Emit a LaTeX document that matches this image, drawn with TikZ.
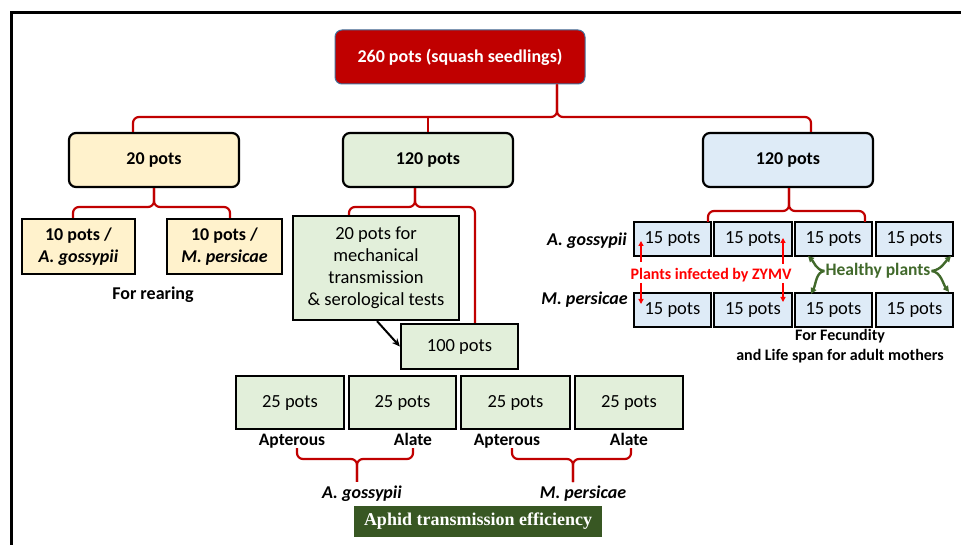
\documentclass[tikz,border=0pt]{standalone}
\usepackage{fontspec}
\setmainfont{Carlito}
\newfontfamily\timesfont{Liberation Serif}
\usetikzlibrary{arrows.meta}
\definecolor{topred}{HTML}{C00000}
\definecolor{brightred}{HTML}{FF0000}
\definecolor{yel}{HTML}{FFF2CC}
\definecolor{grn}{HTML}{E2EFDA}
\definecolor{blu}{HTML}{DEEBF7}
\definecolor{dkgrn}{HTML}{385723}
\definecolor{hgrn}{HTML}{41692B}
\definecolor{topborder}{HTML}{41719C}
\begin{document}
\begin{tikzpicture}[x=1pt,y=-1pt,
  font=\bfseries\fontsize{18}{22}\selectfont,
  rbox/.style={draw, line width=2.2pt, rounded corners=7pt, inner sep=0pt, align=center},
  sbox/.style={draw, line width=2.2pt, inner sep=0pt, align=center},
  regbox/.style={draw, line width=2.2pt, inner sep=0pt, align=center, font=\mdseries\fontsize{18.5}{22}\selectfont},
  conn/.style={draw=topred, line width=2.2pt, rounded corners=6pt},
  lbl/.style={inner sep=0pt, align=center},
  smalllbl/.style={inner sep=0pt, align=center, font=\bfseries\fontsize{16}{20}\selectfont},
  sublbl/.style={inner sep=0pt, align=center, font=\bfseries\fontsize{17.5}{20}\selectfont},
  spec/.style={inner sep=0pt, align=center, font=\bfseries\itshape\fontsize{18}{20}\selectfont},
  redarr/.style={draw=brightred, line width=1.4pt, -{Triangle[length=5pt,width=5pt]}},
  grnarr/.style={draw=hgrn, line width=2.4pt, -{Triangle[length=6pt,width=6pt]}}
]
\useasboundingbox (0,0) rectangle (961,545);
% frame
\draw[line width=3pt] (961,13) -- (11,13) -- (11,545);

% top
\node[draw=topborder, line width=1pt, fill=topred, rounded corners=7pt, text=white,
  minimum width=250pt, minimum height=54pt, inner sep=0pt] (top) at (460,57) {260 pots (squash seedlings)};

% level 2
\node[rbox, fill=yel, minimum width=170pt, minimum height=54pt] (n20) at (154,160) {20 pots};
\node[rbox, fill=grn, minimum width=170pt, minimum height=54pt] (n120a) at (428,160) {120 pots};
\node[rbox, fill=blu, minimum width=170pt, minimum height=54pt] (n120b) at (788,160) {120 pots};

% top brace
\draw[conn] ([xshift=97pt]top.south) -- (557,117) -- (133,117) -- ([xshift=-21pt]n20.north);
\draw[conn] ([xshift=97pt]top.south) -- (557,117) -- (811,117) -- ([xshift=23pt]n120b.north);
\draw[conn] (n120a.north |- 0,117) -- (n120a.north);

% left branch
\node[sbox, fill=yel, minimum width=113pt, minimum height=55pt] (ag10) at (78.5,246.5) {10 pots /\\\itshape A. gossypii};
\node[sbox, fill=yel, minimum width=115pt, minimum height=55pt] (mp10) at (224.5,246.5) {10 pots /\\\itshape M. persicae};
\node[lbl] (rear) at (153,295) {For rearing};
\draw[conn] (n20.south) -- (154,207) -- (73,207) -- ([xshift=-5.5pt]ag10.north);
\draw[conn] (n20.south) -- (154,207) -- (230,207) -- ([xshift=5.5pt]mp10.north);

% middle branch
\node[regbox, fill=grn, minimum width=166pt, minimum height=104pt] (mech) at (376,268) {20 pots for\\mechanical\\transmission\\\& serological tests};
\node[regbox, fill=grn, minimum width=117pt, minimum height=45pt] (n100) at (459.5,346.5) {100 pots};
\draw[conn] ([xshift=-13pt]n120a.south) -- (415,207) -- (349,207) -- ([xshift=-27pt]mech.north);
\draw[conn] ([xshift=-13pt]n120a.south) -- (415,207) -- (475,207) -- ([xshift=15.5pt]n100.north);
\draw[line width=2pt, -{Stealth[length=8pt,width=7pt]}] ([xshift=1pt]mech.south) -- (n100.west);

% 25 pots row
\node[regbox, fill=grn, minimum width=108pt, minimum height=53pt] (p1) at (290,402.5) {25 pots};
\node[regbox, fill=grn, minimum width=107pt, minimum height=53pt] (p2) at (402.5,402.5) {25 pots};
\node[regbox, fill=grn, minimum width=109pt, minimum height=53pt] (p3) at (515.5,402.5) {25 pots};
\node[regbox, fill=grn, minimum width=108pt, minimum height=53pt] (p4) at (629,402.5) {25 pots};
\node[sublbl] (ap1) at (292,441) {Apterous};
\node[sublbl] (al1) at (413,439) {Alate};
\node[sublbl] (ap2) at (507,441) {Apterous};
\node[sublbl] (al2) at (629,439) {Alate};
\coordinate (b1l) at (297,448);
\coordinate (b1r) at (413,448);
\coordinate (b2l) at (512,448);
\coordinate (b2r) at (631,448);
\node[spec] (sp1) at (362,494) {A. gossypii};
\node[spec] (sp2) at (583,494) {M. persicae};
\draw[conn] (b1l) -- (297,459) -- (357,459) -- ([yshift=4pt]sp1.north -| 357,0);
\draw[conn] (b1r) -- (413,459) -- (357,459) -- ([yshift=4pt]sp1.north -| 357,0);
\draw[conn] (b2l) -- (512,459) -- (573,459) -- ([yshift=4pt]sp2.north -| 573,0);
\draw[conn] (b2r) -- (631,459) -- (573,459) -- ([yshift=4pt]sp2.north -| 573,0);
\node[fill=dkgrn, text=white, minimum width=248pt, minimum height=31pt, inner sep=0pt,
  font=\timesfont\bfseries\fontsize{18}{20}\selectfont] (ate) at (478,521.5) {Aphid transmission efficiency};

% right branch
\node[regbox, fill=blu, minimum width=77pt, minimum height=34pt] (a1) at (672.5,239) {15 pots};
\node[regbox, fill=blu, minimum width=78pt, minimum height=34pt] (a2) at (753,239) {15 pots};
\node[regbox, fill=blu, minimum width=77pt, minimum height=34pt] (a3) at (833.5,239) {15 pots};
\node[regbox, fill=blu, minimum width=77pt, minimum height=34pt] (a4) at (914.5,239) {15 pots};
\node[regbox, fill=blu, minimum width=77pt, minimum height=34pt] (m1) at (672.5,310) {15 pots};
\node[regbox, fill=blu, minimum width=78pt, minimum height=34pt] (m2) at (753,310) {15 pots};
\node[regbox, fill=blu, minimum width=77pt, minimum height=34pt] (m3) at (833.5,310) {15 pots};
\node[regbox, fill=blu, minimum width=77pt, minimum height=34pt] (m4) at (914.5,310) {15 pots};
\coordinate (rl) at (708,222);
\coordinate (rr) at (865,222);
\draw[conn] ([xshift=1pt]n120b.south) -- (789,211) -- (708,211) -- (rl);
\draw[conn] ([xshift=1pt]n120b.south) -- (789,211) -- (865,211) -- (rr);
\node[spec, anchor=east] (agl) at (627,241) {A. gossypii};
\node[spec, anchor=east] (mpl) at (628,300) {M. persicae};

\node[lbl, text=brightred, font=\bfseries\fontsize{16}{18}\selectfont] (zymv) at (711,275) {Plants infected by ZYMV};
\coordinate (z1t) at (641,241);
\coordinate (z1b) at (641,304);
\coordinate (z2t) at (783,238);
\coordinate (z2b) at (783,302);
\draw[redarr] (641,262) -- (z1t);
\draw[redarr] (641,283) -- (z1b);
\draw[redarr] (783,264) -- (z2t);
\draw[redarr] (783,283) -- (z2b);

\node[lbl, text=hgrn, font=\bfseries\fontsize{17.5}{18}\selectfont] (hp) at (878,271) {Healthy plants};
\coordinate (h1t) at (808,256);
\coordinate (h1b) at (811,294);
\coordinate (h2t) at (951,256);
\coordinate (h2b) at (949,292);
\draw[grnarr] ([xshift=-1pt]hp.west) .. controls (816,270) and (814,262) .. (h1t);
\draw[grnarr] ([xshift=-1pt]hp.west) .. controls (816,272) and (816,284) .. (h1b);
\draw[grnarr] ([xshift=1pt]hp.east) .. controls (941,270) and (945,262) .. (h2t);
\draw[grnarr] ([xshift=1pt]hp.east) .. controls (941,272) and (943,284) .. (h2b);

\node[smalllbl, font=\bfseries\fontsize{16}{20}\selectfont] (fec) at (840,346) {For Fecundity\\and Life span for adult mothers};
\end{tikzpicture}
\end{document}
